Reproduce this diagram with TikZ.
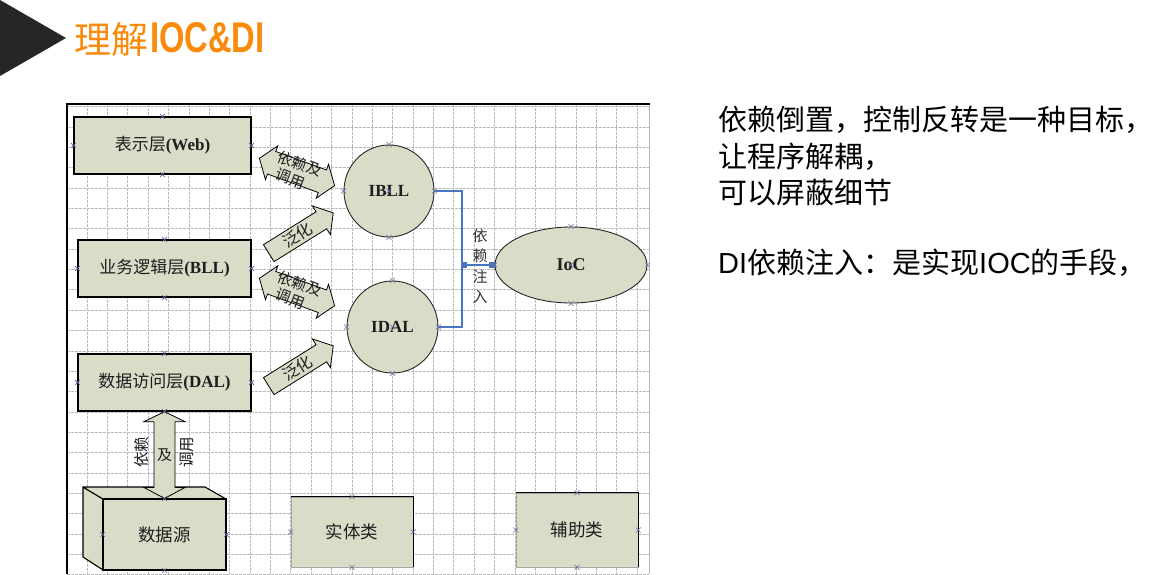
\documentclass[tikz,border=0pt]{standalone}
\usepackage{fontspec}
\usepackage{graphicx}
\setmainfont{Liberation Serif}
\newfontfamily\cjk{Noto Sans CJK SC}
\newfontfamily\arialfont{Liberation Sans}
\usetikzlibrary{shapes.geometric,calc}

\definecolor{boxfill}{RGB}{216,221,200}
\definecolor{gridgray}{RGB}{185,185,185}
\definecolor{connblue}{RGB}{72,118,192}
\definecolor{markblue}{RGB}{105,105,165}
\definecolor{titleorange}{RGB}{250,138,10}
\definecolor{darktri}{RGB}{38,38,38}
\definecolor{labelgray}{RGB}{30,30,30}

\newcommand{\boxlabel}[2]{{\cjk #1}\textbf{#2}}

\begin{document}
\begin{tikzpicture}[x=1pt,y=-1pt,
  gridline/.style={draw=gridgray, line width=0.6pt, dash pattern=on 2.5pt off 1.5pt},
  layerbox/.style={rectangle, draw=black, line width=1.3pt, fill=boxfill, inner sep=0pt,
    text=labelgray, font=\fontsize{17}{17}\selectfont},
  classbox/.style={rectangle, draw=gray!70, line width=0.6pt, fill=boxfill, inner sep=0pt,
    text=labelgray, font=\fontsize{17.5}{17.5}\selectfont\cjk},
  iface/.style={ellipse, draw=black!85, line width=0.9pt, fill=boxfill, inner sep=0pt,
    text=labelgray, font=\fontsize{17}{17}\selectfont\bfseries},
  blockarrow/.style={draw=black, line width=0.8pt, fill=boxfill, line join=miter},
  arrowtext/.style={transform shape, inner sep=0pt, text=labelgray,
    font=\fontsize{15}{17}\selectfont\cjk},
  conn/.style={draw=connblue, line width=2.6pt},
  righttext/.style={anchor=base west, inner sep=0pt, text=black,
    font=\fontsize{29}{29}\selectfont\cjk},
  xm/.pic={\draw[markblue, line width=0.6pt] (-2.5,-2.5) -- (2.5,2.5) (-2.5,2.5) -- (2.5,-2.5);}
]
\useasboundingbox (0,0) rectangle (1168,574);

% ---- heading ----
\fill[darktri] (0,0) -- (66,38) -- (0,76) -- cycle;
\node[anchor=base west, inner sep=0pt, text=titleorange, font=\fontsize{37}{37}\selectfont\cjk]
  (titlecn) at (74,53) {理解};
\node[anchor=base west, inner sep=0pt, text=titleorange, font=\fontsize{43}{43}\selectfont\arialfont\bfseries]
  (titlelat) at (150,52) {\scalebox{0.76}[1]{IOC\&DI}};

% ---- drawing sheet with grid ----
\fill[white] (67,104) rectangle (649,574);
\begin{scope}
  \clip (67,104) rectangle (649,574);
  \foreach \i in {0,...,27}
    \draw[gridline] ({87+20.375*\i},104) -- ({87+20.375*\i},574);
  \foreach \j in {0,...,23}
    \draw[gridline] (67,{106.6+20.35*\j}) -- (649,{106.6+20.35*\j});
\end{scope}
\draw[black, line width=1.6pt] (67,574) -- (67,104) -- (650,104);
\draw[gray!55, line width=1pt] (649,105) -- (649,574);

% ---- layer boxes ----
\node[layerbox, minimum width=177pt, minimum height=57pt] (web) at (162.5,145.5)
  {\boxlabel{表示层}{(Web)}};
\node[layerbox, minimum width=173pt, minimum height=57pt] (bll) at (164.5,268.5)
  {\boxlabel{业务逻辑层}{(BLL)}};
\node[layerbox, minimum width=173pt, minimum height=57pt] (dal) at (164.5,382.5)
  {\boxlabel{数据访问层}{(DAL)}};

% ---- data source block (3D) ----
\coordinate (sbtl) at (83,487);
\coordinate (sbtr) at (205,487);
\coordinate (sbbl) at (83,557);
\coordinate (sftl) at (103,499);
\coordinate (sftr) at (226,499);
\coordinate (sfbl) at (103,570);
\draw[black, line width=1.1pt, fill=boxfill, line join=round] (sbtl) -- (sftl) -- (sfbl) -- (sbbl) -- cycle;
\draw[black, line width=1.1pt, fill=boxfill, line join=round] (sbtl) -- (sbtr) -- (sftr) -- (sftl) -- cycle;
\node[layerbox, line width=1.1pt, minimum width=123pt, minimum height=71pt, font=\fontsize{17.5}{17.5}\selectfont\cjk]
  (source) at (164.5,534.5) {数据源};

% ---- class boxes ----
\node[classbox, minimum width=122pt, minimum height=70pt] (entity) at (352,532) {实体类};
\draw[black, line width=1.3pt] (entity.north west) -- (entity.north east) -- (entity.south east);
\node[classbox, minimum width=122pt, minimum height=74pt] (helper) at (577,530) {辅助类};
\draw[black, line width=1.3pt] (helper.north west) -- (helper.north east) -- (helper.south east);

% ---- vertical double arrow DAL <-> data source ----
\coordinate (vt) at (dal.south);
\coordinate (vb) at (source.north);
\draw[blockarrow] (vt) -- ($(vt)+(20.5,10)$) -- ($(vt)+(10.5,10)$) -- ($(vb)+(10.5,-11)$)
  -- ($(vb)+(20.5,-11)$) -- (vb) -- ($(vb)+(-20.5,-11)$) -- ($(vb)+(-10.5,-11)$)
  -- ($(vt)+(-10.5,10)$) -- ($(vt)+(-20.5,10)$) -- cycle;
\node[inner sep=0pt, rotate=90, text=labelgray, font=\fontsize{15.5}{15.5}\selectfont\cjk] (vdep) at (142,452) {依赖};
\node[inner sep=0pt, text=labelgray, font=\fontsize{15}{15}\selectfont\cjk] (vand) at (164.5,455) {及};
\node[inner sep=0pt, rotate=90, text=labelgray, font=\fontsize{15.5}{15.5}\selectfont\cjk] (vcall) at (187,452) {调用};

% ---- interfaces ----
\node[iface, minimum width=90pt, minimum height=92pt] (ibll) at (389,191) {IBLL};
\node[iface, minimum width=91pt, minimum height=92pt] (idal) at (392.5,327) {IDAL};
\node[iface, minimum width=152pt, minimum height=76pt, font=\fontsize{18}{18}\selectfont\bfseries] (ioc) at (571,265) {IoC};

% ---- diagonal block arrows ----
% upper pair
\begin{scope}[shift={(297,172)}, rotate=-20]
  \draw[blockarrow] (-40,0) -- (-27,-18) -- (-27,-12) -- (27,-12) -- (27,-18) -- (40,0)
    -- (27,18) -- (27,12) -- (-27,12) -- (-27,18) -- cycle;
  \node[arrowtext, align=left] (a1) at (0,0) {依赖及\\\hspace*{4pt}调用};
\end{scope}
\begin{scope}[shift={(301,233)}, rotate=32]
  \draw[blockarrow] (-38,-10) -- (24,-10) -- (24,-17) -- (38,0) -- (24,17) -- (24,10)
    -- (-38,10) -- cycle;
  \node[arrowtext, font=\fontsize{16}{16}\selectfont\cjk] (a2) at (-4,0) {泛化};
\end{scope}
% lower pair
\begin{scope}[shift={(297,292)}, rotate=-20]
  \draw[blockarrow] (-40,0) -- (-27,-18) -- (-27,-12) -- (27,-12) -- (27,-18) -- (40,0)
    -- (27,18) -- (27,12) -- (-27,12) -- (-27,18) -- cycle;
  \node[arrowtext, align=left] (a3) at (0,0) {依赖及\\\hspace*{4pt}调用};
\end{scope}
\begin{scope}[shift={(301,366)}, rotate=32]
  \draw[blockarrow] (-38,-10) -- (24,-10) -- (24,-17) -- (38,0) -- (24,17) -- (24,10)
    -- (-38,10) -- cycle;
  \node[arrowtext, font=\fontsize{16}{16}\selectfont\cjk] (a4) at (-4,0) {泛化};
\end{scope}

% ---- injection connector ----
\coordinate (junc) at (462,265);
\draw[conn] (ibll.east) -| (junc) |- (idal.east);
\draw[conn] (junc) -- (ioc.west);
\fill[connblue] ($(junc)+(0,-3)$) rectangle ++(5,6);
\fill[connblue] ($(ioc.west)+(-6,-3)$) rectangle ++(6,6);
\node[inner sep=0pt, align=center, text=black!80, font=\fontsize{15}{20.5}\selectfont\cjk]
  (dilabel) at (480,266) {依\\赖\\注\\入};

% ---- connection point markers ----
\foreach \n in {web,bll,dal,source,entity,helper,ibll,idal,ioc}
  \foreach \a in {north,south,east,west}
    \pic at (\n.\a) {xm};
\foreach \n in {ibll,idal,ioc}
  \pic at (\n.center) {xm};

% ---- notes ----
\node[righttext] (note1) at (718,130) {依赖倒置，控制反转是一种目标，};
\node[righttext] (note2) at (718,167) {让程序解耦，};
\node[righttext] (note3) at (718,203) {可以屏蔽细节};
\node[righttext] (note4) at (718,273) {{\arialfont DI}依赖注入：是实现{\arialfont IOC}的手段，};
\end{tikzpicture}
\end{document}
